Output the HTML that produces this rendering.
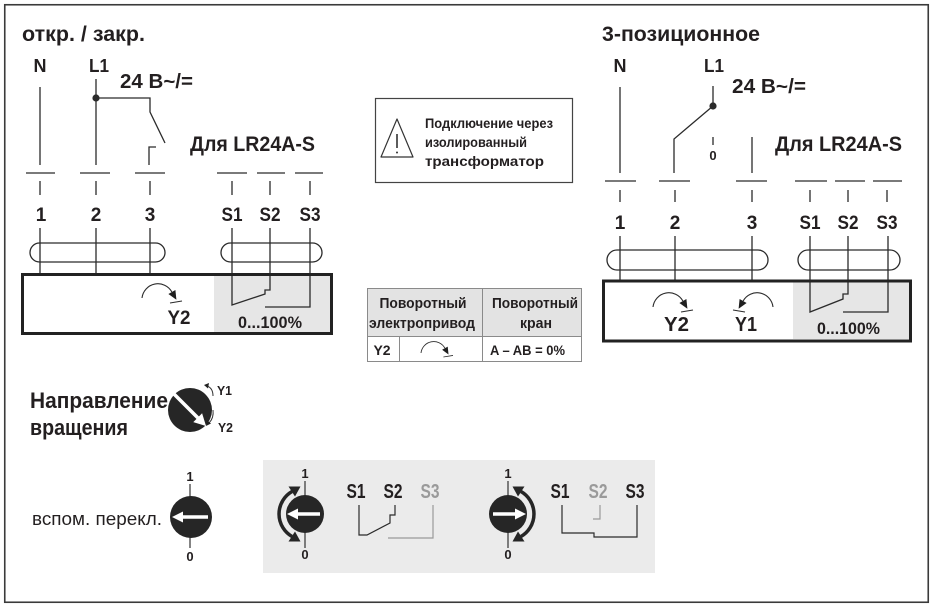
<!DOCTYPE html>
<html><head><meta charset="utf-8">
<style>
html,body{margin:0;padding:0;background:#fff;}
svg{display:block;}
text{font-family:"Liberation Sans", "Noto Sans CJK SC", sans-serif;fill:#231f20;font-weight:bold;}
.n{font-weight:normal;}
.g{fill:#9a9a9a;}
</style></head><body>
<svg width="933" height="607" viewBox="0 0 933 607" xmlns="http://www.w3.org/2000/svg">
<defs>
  <g id="rot">
    <path d="M0,0 A16,16 0 0 1 29.9,-6" fill="none" stroke="#2b2b2b" stroke-width="1.1"/>
    <polygon points="34.4,1.8 33.4,-8 26.4,-4" fill="#1f1f1f"/>
    <line x1="28" y1="5" x2="40" y2="3" stroke="#2b2b2b" stroke-width="1.1"/>
  </g>
  <g id="dbl">
    <path d="M-13,-22.5 A26,26 0 0 0 -13,22.5" fill="none" stroke="#262626" stroke-width="3.5"/>
    <polygon points="-4.5,-27.5 -10,-17.5 -16.5,-27.5" fill="#262626"/>
    <polygon points="-4.5,27.5 -10,17.5 -16.5,27.5" fill="#262626"/>
  </g>
</defs>
<rect x="0" y="0" width="933" height="607" fill="#fff"/>
<rect x="4.75" y="4.75" width="923.5" height="597.5" fill="none" stroke="#3a3a3a" stroke-width="1.6"/>

<!-- ============ LEFT DIAGRAM ============ -->
<rect x="214" y="275" width="117" height="59" fill="#e6e6e6"/>
<g stroke="#2b2b2b" stroke-width="1.3" fill="none">
  <line x1="40" y1="87" x2="40" y2="165"/>
  <line x1="96" y1="79" x2="96" y2="165"/>
  <polyline points="96,98 150,98 150,112 165,143"/>
  <polyline points="149,165 149,147 156,147"/>
  <line x1="26" y1="173" x2="55" y2="173"/>
  <line x1="80" y1="173" x2="110" y2="173"/>
  <line x1="135" y1="173" x2="165" y2="173"/>
  <line x1="217" y1="173" x2="247" y2="173"/>
  <line x1="257" y1="173" x2="285" y2="173"/>
  <line x1="295" y1="173" x2="323" y2="173"/>
  <line x1="40" y1="181" x2="40" y2="195"/>
  <line x1="96" y1="181" x2="96" y2="195"/>
  <line x1="150" y1="181" x2="150" y2="195"/>
  <line x1="232" y1="181" x2="232" y2="195"/>
  <line x1="270" y1="181" x2="270" y2="195"/>
  <line x1="310" y1="181" x2="310" y2="195"/>
  <line x1="40" y1="228" x2="40" y2="274"/>
  <line x1="96" y1="228" x2="96" y2="274"/>
  <line x1="150" y1="228" x2="150" y2="274"/>
  <rect x="30" y="243" width="135" height="19" rx="9.5"/>
  <rect x="221" y="243" width="101" height="19" rx="9.5"/>
  <polyline points="232,228 232,305 265,294 265,290 270,290 270,228"/>
  <polyline points="310,228 310,307 265,307"/>
</g>
<circle cx="96" cy="98" r="3.6" fill="#2b2b2b"/>
<rect x="22.5" y="274.5" width="309" height="59" fill="none" stroke="#222" stroke-width="3"/>
<use href="#rot" transform="translate(142,298)"/>

<text x="22" y="41" font-size="21" textLength="123" lengthAdjust="spacingAndGlyphs">откр. / закр.</text>
<text x="40" y="72" font-size="18" text-anchor="middle">N</text>
<text x="89" y="72" font-size="18" textLength="20" lengthAdjust="spacingAndGlyphs">L1</text>
<text x="120" y="88" font-size="20" textLength="73" lengthAdjust="spacingAndGlyphs">24 В~/=</text>
<text x="190" y="151" font-size="21" textLength="125" lengthAdjust="spacingAndGlyphs">Для LR24A-S</text>
<text x="41" y="221" font-size="19" text-anchor="middle">1</text>
<text x="96" y="221" font-size="19" text-anchor="middle">2</text>
<text x="150" y="221" font-size="19" text-anchor="middle">3</text>
<text x="232" y="221" font-size="19" text-anchor="middle" textLength="21" lengthAdjust="spacingAndGlyphs">S1</text>
<text x="270" y="221" font-size="19" text-anchor="middle" textLength="21" lengthAdjust="spacingAndGlyphs">S2</text>
<text x="310" y="221" font-size="19" text-anchor="middle" textLength="21" lengthAdjust="spacingAndGlyphs">S3</text>
<text x="179" y="324" font-size="19" text-anchor="middle" textLength="23" lengthAdjust="spacingAndGlyphs">Y2</text>
<text x="238" y="328" font-size="16.5" textLength="64" lengthAdjust="spacingAndGlyphs">0...100%</text>

<!-- ============ RIGHT DIAGRAM ============ -->
<rect x="793" y="282" width="117" height="57" fill="#e6e6e6"/>
<g stroke="#2b2b2b" stroke-width="1.3" fill="none">
  <line x1="620" y1="87" x2="620" y2="173"/>
  <line x1="713" y1="86" x2="713" y2="106"/>
  <polyline points="713,106 674,139 674,173"/>
  <line x1="713" y1="137" x2="713" y2="145"/>
  <line x1="752" y1="137" x2="752" y2="173"/>
  <line x1="605" y1="181" x2="636" y2="181"/>
  <line x1="659" y1="181" x2="690" y2="181"/>
  <line x1="736" y1="181" x2="767" y2="181"/>
  <line x1="795" y1="181" x2="827" y2="181"/>
  <line x1="835" y1="181" x2="865" y2="181"/>
  <line x1="873" y1="181" x2="902" y2="181"/>
  <line x1="620" y1="190" x2="620" y2="202"/>
  <line x1="675" y1="190" x2="675" y2="202"/>
  <line x1="752" y1="190" x2="752" y2="202"/>
  <line x1="810" y1="190" x2="810" y2="202"/>
  <line x1="848" y1="190" x2="848" y2="202"/>
  <line x1="887" y1="190" x2="887" y2="202"/>
  <line x1="620" y1="236" x2="620" y2="281"/>
  <line x1="675" y1="236" x2="675" y2="281"/>
  <line x1="752" y1="236" x2="752" y2="281"/>
  <rect x="607" y="250" width="161" height="20" rx="10"/>
  <rect x="798" y="250" width="102" height="20" rx="10"/>
  <polyline points="810,236 810,312 843,299 843,294 848,294 848,236"/>
  <polyline points="888,236 888,312 843,312"/>
</g>
<circle cx="713" cy="106" r="3.6" fill="#2b2b2b"/>
<rect x="603.5" y="281" width="307" height="60" fill="none" stroke="#222" stroke-width="3"/>
<use href="#rot" transform="translate(653,307)"/>
<use href="#rot" transform="translate(773,307) scale(-1,1)"/>

<text x="602" y="41" font-size="21" textLength="158" lengthAdjust="spacingAndGlyphs">3-позиционное</text>
<text x="620" y="72" font-size="18" text-anchor="middle">N</text>
<text x="704" y="72" font-size="18" textLength="20" lengthAdjust="spacingAndGlyphs">L1</text>
<text x="732" y="93" font-size="20" textLength="74" lengthAdjust="spacingAndGlyphs">24 В~/=</text>
<text x="775" y="151" font-size="21" textLength="127" lengthAdjust="spacingAndGlyphs">Для LR24A-S</text>
<text x="713" y="160" font-size="13" text-anchor="middle">0</text>
<text x="620" y="229" font-size="19" text-anchor="middle">1</text>
<text x="675" y="229" font-size="19" text-anchor="middle">2</text>
<text x="752" y="229" font-size="19" text-anchor="middle">3</text>
<text x="810" y="229" font-size="19" text-anchor="middle" textLength="21" lengthAdjust="spacingAndGlyphs">S1</text>
<text x="848" y="229" font-size="19" text-anchor="middle" textLength="21" lengthAdjust="spacingAndGlyphs">S2</text>
<text x="887" y="229" font-size="19" text-anchor="middle" textLength="21" lengthAdjust="spacingAndGlyphs">S3</text>
<text x="676.5" y="331" font-size="20" text-anchor="middle" textLength="25" lengthAdjust="spacingAndGlyphs">Y2</text>
<text x="746" y="331" font-size="20" text-anchor="middle" textLength="22" lengthAdjust="spacingAndGlyphs">Y1</text>
<text x="817" y="334" font-size="16.5" textLength="63" lengthAdjust="spacingAndGlyphs">0...100%</text>

<!-- ============ WARNING BOX ============ -->
<rect x="375.5" y="98.5" width="197" height="84" fill="none" stroke="#444" stroke-width="1.2"/>
<polygon points="397,119 381,157 413,157" fill="none" stroke="#333" stroke-width="1.2" stroke-linejoin="round"/>
<line x1="397" y1="134" x2="397" y2="148" stroke="#333" stroke-width="1.6"/>
<circle cx="397" cy="152.5" r="1" fill="#333"/>
<text x="425" y="128" font-size="14" textLength="128" lengthAdjust="spacingAndGlyphs">Подключение через</text>
<text x="425" y="147" font-size="14" textLength="102" lengthAdjust="spacingAndGlyphs">изолированный</text>
<text x="425" y="166" font-size="14" textLength="119" lengthAdjust="spacingAndGlyphs">трансформатор</text>

<!-- ============ TABLE ============ -->
<rect x="367.5" y="288.5" width="214" height="48" fill="#e3e3e3"/>
<g stroke="#8a8a8a" stroke-width="1" fill="none">
  <rect x="367.5" y="288.5" width="214" height="73"/>
  <line x1="367.5" y1="336.5" x2="581.5" y2="336.5"/>
  <line x1="482.5" y1="288.5" x2="482.5" y2="361.5"/>
  <line x1="399.5" y1="336.5" x2="399.5" y2="361.5"/>
</g>
<text x="423" y="308" font-size="14.5" text-anchor="middle" textLength="87" lengthAdjust="spacingAndGlyphs">Поворотный</text>
<text x="422" y="328" font-size="14.5" text-anchor="middle" textLength="106" lengthAdjust="spacingAndGlyphs">электропривод</text>
<text x="535" y="308" font-size="14.5" text-anchor="middle" textLength="86" lengthAdjust="spacingAndGlyphs">Поворотный</text>
<text x="536" y="328" font-size="14.5" text-anchor="middle" textLength="32" lengthAdjust="spacingAndGlyphs">кран</text>
<text x="382" y="355" font-size="14" text-anchor="middle">Y2</text>
<use href="#rot" transform="translate(421,353) scale(0.8)"/>
<text x="490" y="355" font-size="14" textLength="75" lengthAdjust="spacingAndGlyphs">A – AB = 0%</text>

<!-- ============ DIRECTION KNOB ============ -->
<text x="30" y="408" font-size="22.5" textLength="138" lengthAdjust="spacingAndGlyphs">Направление</text>
<text x="30" y="435" font-size="22.5" textLength="98" lengthAdjust="spacingAndGlyphs">вращения</text>
<circle cx="190" cy="410" r="22" fill="#262626"/>
<line x1="174" y1="394" x2="199" y2="419" stroke="#fff" stroke-width="3.5"/>
<polygon points="206,426 202.1,413.3 193.3,422.1" fill="#fff"/>
<path d="M207,386 Q213,388 213,396" fill="none" stroke="#333" stroke-width="1"/>
<polygon points="204,385 209,383 208,388.5" fill="#222"/>
<path d="M213,410 Q214,418 209,423" fill="none" stroke="#333" stroke-width="1"/>
<polygon points="206,426 207,420.5 211,423.5" fill="#222"/>
<text x="217" y="395" font-size="13" textLength="15" lengthAdjust="spacingAndGlyphs">Y1</text>
<text x="218" y="432" font-size="13" textLength="15" lengthAdjust="spacingAndGlyphs">Y2</text>

<!-- ============ AUX SWITCH ============ -->
<text class="n" x="32" y="525" font-size="18" textLength="130" lengthAdjust="spacingAndGlyphs">вспом. перекл.</text>
<line x1="190" y1="484" x2="190" y2="548" stroke="#333" stroke-width="1.2"/>
<circle cx="191" cy="517" r="21" fill="#262626"/>
<line x1="208" y1="517" x2="181" y2="517" stroke="#fff" stroke-width="3.5"/>
<polygon points="172,517 183,511.5 183,522.5" fill="#fff"/>
<text x="190" y="481" font-size="13" text-anchor="middle">1</text>
<text x="190" y="561" font-size="13" text-anchor="middle">0</text>

<!-- ============ BOTTOM PANEL ============ -->
<rect x="263" y="460" width="392" height="113" fill="#ebebeb"/>
<!-- knob A -->
<line x1="305" y1="481" x2="305" y2="548" stroke="#333" stroke-width="1.2"/>
<circle cx="305" cy="514" r="19" fill="#262626"/>
<line x1="320" y1="514" x2="296" y2="514" stroke="#fff" stroke-width="3.5"/>
<polygon points="287,514 298,508.5 298,519.5" fill="#fff"/>
<use href="#dbl" transform="translate(305,514)"/>
<text x="305" y="478" font-size="13" text-anchor="middle">1</text>
<text x="305" y="559" font-size="13" text-anchor="middle">0</text>
<text x="356" y="498" font-size="20" text-anchor="middle" textLength="19" lengthAdjust="spacingAndGlyphs">S1</text>
<text x="393" y="498" font-size="20" text-anchor="middle" textLength="19" lengthAdjust="spacingAndGlyphs">S2</text>
<text class="g" x="430" y="498" font-size="20" text-anchor="middle" textLength="19" lengthAdjust="spacingAndGlyphs">S3</text>
<g fill="none" stroke-width="1.2">
  <polyline stroke="#2b2b2b" points="359,505 359,535 367,535 390,523 390,515 395,515 395,505"/>
  <polyline stroke="#9a9a9a" points="433,505 433,538 388,538"/>
</g>
<!-- knob B -->
<line x1="508" y1="481" x2="508" y2="548" stroke="#333" stroke-width="1.2"/>
<circle cx="508" cy="514" r="19" fill="#262626"/>
<line x1="493" y1="514" x2="517" y2="514" stroke="#fff" stroke-width="3.5"/>
<polygon points="526,514 515,508.5 515,519.5" fill="#fff"/>
<use href="#dbl" transform="translate(508,514) scale(-1,1)"/>
<text x="508" y="478" font-size="13" text-anchor="middle">1</text>
<text x="508" y="559" font-size="13" text-anchor="middle">0</text>
<text x="560" y="498" font-size="20" text-anchor="middle" textLength="19" lengthAdjust="spacingAndGlyphs">S1</text>
<text class="g" x="598" y="498" font-size="20" text-anchor="middle" textLength="19" lengthAdjust="spacingAndGlyphs">S2</text>
<text x="635" y="498" font-size="20" text-anchor="middle" textLength="19" lengthAdjust="spacingAndGlyphs">S3</text>
<g fill="none" stroke-width="1.2">
  <polyline stroke="#2b2b2b" points="562,505 562,533 594,533 594,537 637,537 637,505"/>
  <polyline stroke="#9a9a9a" points="600,505 600,519 593,519"/>
</g>
</svg>
</body></html>
